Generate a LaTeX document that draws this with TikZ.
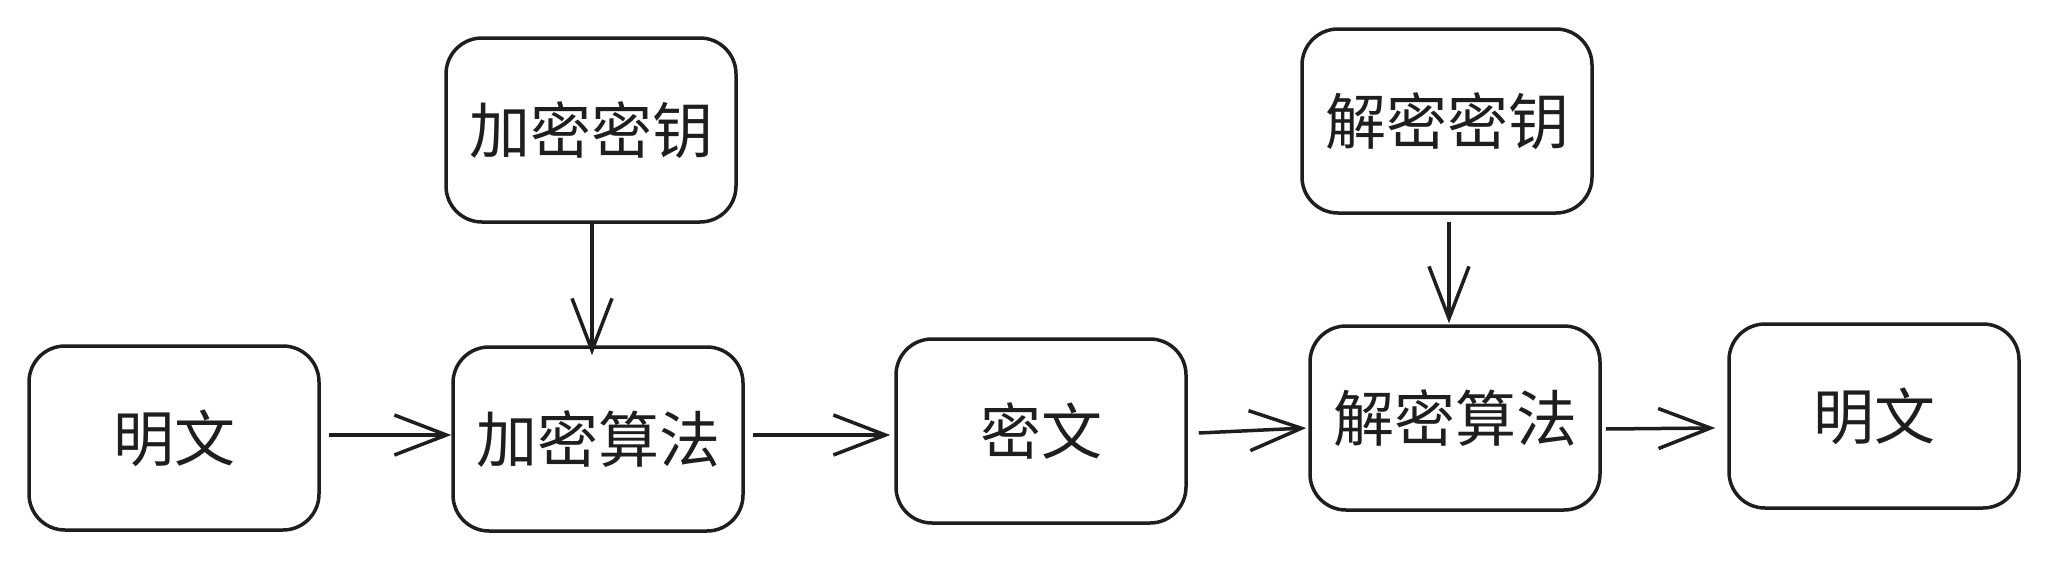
\documentclass[tikz,border=0pt]{standalone}
\usepackage{fontspec}
\newfontfamily\cjk{Noto Sans CJK SC}
\usetikzlibrary{arrows.meta}
\definecolor{ink}{HTML}{1E1E1E}
\tikzset{
  box/.style={draw=ink, line width=3.5pt, rounded corners=36pt, minimum width=290pt, minimum height=184pt, inner sep=0pt, font=\cjk\fontsize{61}{64}\selectfont, text=ink},
  conn/.style={draw=ink, line width=3.5pt, -{Straight Barb[length=52pt,width=40pt,line width=3.5pt]}}
}
\begin{document}
\begin{tikzpicture}[x=1pt,y=-1pt]
\useasboundingbox (0,0) rectangle (2050,562);
\node[box] (p1) at (174,438) {明文};
\node[box] (enc) at (598,439) {加密算法};
\node[box] (ekey) at (591,130) {加密密钥};
\node[box] (c) at (1041,431) {密文};
\node[box] (dkey) at (1447,121) {解密密钥};
\node[box] (dec) at (1455,418) {解密算法};
\node[box] (p2) at (1874,416) {明文};
\draw[conn] ([xshift=8pt,yshift=3pt]p1.east) -- ([yshift=4pt]enc.west);
\draw[conn] ([xshift=8pt,yshift=4pt]enc.east) -- ([xshift=-4pt,yshift=-4pt]c.west);
\draw[conn] ([xshift=11pt,yshift=-2pt]c.east) -- ([xshift=-2pt,yshift=-10pt]dec.west);
\draw[conn] ([xshift=4pt,yshift=-11pt]dec.east) -- ([xshift=-12pt,yshift=-12pt]p2.west);
\draw[conn] ([xshift=1pt,yshift=2pt]ekey.south) -- ([xshift=-6pt,yshift=-10pt]enc.north);
\draw[conn] ([xshift=2pt,yshift=-7pt]dkey.south) -- ([xshift=-6pt,yshift=1pt]dec.north);
\end{tikzpicture}
\end{document}
